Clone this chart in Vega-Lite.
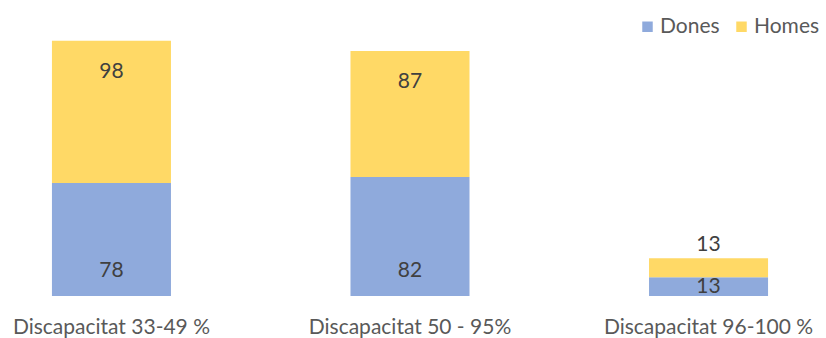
{
  "$schema": "https://vega.github.io/schema/vega-lite/v6.json",
  "autosize": "none",
  "width": 820,
  "height": 290,
  "padding": {"left": 0, "top": 6, "right": 6, "bottom": 42},
  "background": "white",
  "config": {"view": {"stroke": null}, "font": "Lato"},
  "data": {"values": [
    {"cat": "Discapacitat 33-49 %", "sex": "Dones", "v": 78},
    {"cat": "Discapacitat 33-49 %", "sex": "Homes", "v": 98},
    {"cat": "Discapacitat 50 - 95%", "sex": "Dones", "v": 82},
    {"cat": "Discapacitat 50 - 95%", "sex": "Homes", "v": 87},
    {"cat": "Discapacitat 96-100 %", "sex": "Dones", "v": 13},
    {"cat": "Discapacitat 96-100 %", "sex": "Homes", "v": 13}
  ]},
  "encoding": {
    "x": {"field": "cat", "type": "nominal", "sort": null,
      "scale": {"paddingInner": 0.6013, "paddingOuter": 0.174},
      "axis": {"title": null, "labelAngle": 0, "domain": false, "ticks": false, "labelFontSize": 21, "labelColor": "#595959", "labelPadding": 20, "labelFont": "Lato", "labelLimit": 0}}
  },
  "layer": [
    {
      "mark": {"type": "bar"},
      "encoding": {
        "y": {"field": "v", "type": "quantitative", "aggregate": "sum", "stack": "zero", "scale": {"domain": [0, 200], "nice": false}, "axis": null},
        "color": {"field": "sex", "type": "nominal", "scale": {"domain": ["Dones", "Homes"], "range": ["#8FAADC", "#FFD966"]},
          "legend": {"title": null, "orient": "none", "legendX": 637, "legendY": 10, "direction": "horizontal", "symbolType": "square", "symbolSize": 110, "symbolStrokeWidth": 0, "labelFontSize": 21, "labelColor": "#595959", "labelFont": "Lato", "labelOffset": 2, "columnPadding": 11, "padding": 0, "labelLimit": 0}},
        "order": {"field": "sex", "sort": "ascending"}
      }
    },
    {
      "transform": [
        {"filter": "datum.sex === 'Dones'"},
        {"calculate": "min(17, datum.v / 2)", "as": "ly"}
      ],
      "mark": {"type": "text", "fontSize": 21, "color": "#404040", "baseline": "middle"},
      "encoding": {
        "y": {"field": "ly", "type": "quantitative"},
        "text": {"field": "v", "type": "quantitative"}
      }
    },
    {
      "transform": [
        {"joinaggregate": [{"op": "sum", "field": "v", "as": "total"}], "groupby": ["cat"]},
        {"filter": "datum.sex === 'Homes'"},
        {"calculate": "datum.v < 20 ? datum.total + 9 : datum.total - 21.5", "as": "ly"}
      ],
      "mark": {"type": "text", "fontSize": 21, "color": "#404040", "baseline": "middle"},
      "encoding": {
        "y": {"field": "ly", "type": "quantitative"},
        "text": {"field": "v", "type": "quantitative"}
      }
    }
  ]
}
